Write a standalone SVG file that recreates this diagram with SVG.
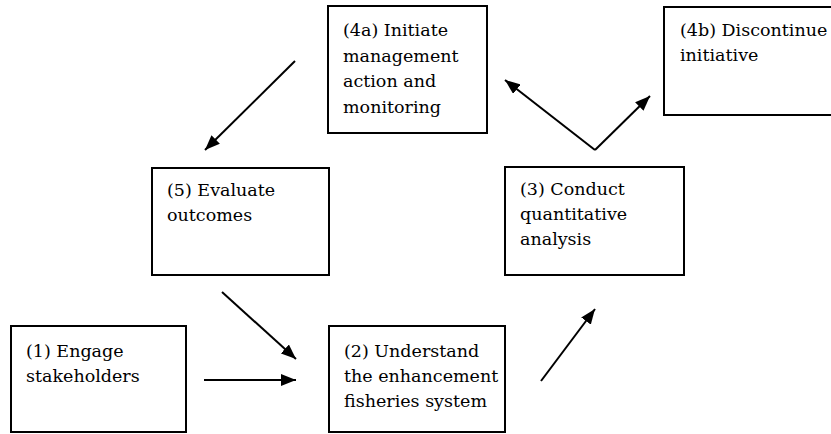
<svg xmlns="http://www.w3.org/2000/svg" width="831" height="434" viewBox="0 0 831 434">
<defs>
<marker id="ah" markerUnits="userSpaceOnUse" markerWidth="16" markerHeight="12" refX="15" refY="6" orient="auto">
<path d="M0,0 L15,6 L0,12 Z" fill="#000"/>
</marker>
</defs>
<rect width="831" height="434" fill="#fff"/>
<g font-size="17.5" fill="#000">
<g id="n4a" font-family="DejaVu Serif">
<rect x="328" y="6" width="159" height="127" fill="#fff" stroke="#000" stroke-width="2"/>
<text x="343" y="36">(4a) Initiate</text>
<text x="343" y="62">management</text>
<text x="343" y="87">action and</text>
<text x="343" y="113">monitoring</text>
</g>
<g id="n4b" font-family="DejaVu Serif">
<rect x="664" y="7" width="180" height="108" fill="#fff" stroke="#000" stroke-width="2"/>
<text x="680" y="36">(4b) Discontinue</text>
<text x="680" y="61">initiative</text>
</g>
<g id="n5" font-family="DejaVu Serif">
<rect x="152" y="168" width="177" height="107" fill="#fff" stroke="#000" stroke-width="2"/>
<text x="167" y="196">(5) Evaluate</text>
<text x="167" y="221">outcomes</text>
</g>
<g id="n3" font-family="DejaVu Serif">
<rect x="505" y="167" width="179" height="108" fill="#fff" stroke="#000" stroke-width="2"/>
<text x="520" y="195">(3) Conduct</text>
<text x="520" y="220">quantitative</text>
<text x="520" y="245">analysis</text>
</g>
<g id="n1" font-family="DejaVu Serif">
<rect x="11" y="326" width="175" height="106" fill="#fff" stroke="#000" stroke-width="2"/>
<text x="26" y="357">(1) Engage</text>
<text x="26" y="382">stakeholders</text>
</g>
<g id="n2" font-family="DejaVu Serif">
<rect x="329" y="326" width="176" height="106" fill="#fff" stroke="#000" stroke-width="2"/>
<text x="344" y="357">(2) Understand</text>
<text x="344" y="382">the enhancement</text>
<text x="344" y="407">fisheries system</text>
</g>
</g>
<g id="connectors" stroke="#000" stroke-width="2" fill="none">
<line x1="295" y1="61" x2="205" y2="150" marker-end="url(#ah)"/>
<line x1="222" y1="292" x2="296" y2="359" marker-end="url(#ah)"/>
<line x1="204" y1="380" x2="296" y2="380" marker-end="url(#ah)"/>
<line x1="541" y1="381" x2="595" y2="309" marker-end="url(#ah)"/>
<line x1="595" y1="150" x2="505" y2="80" marker-end="url(#ah)"/>
<line x1="595" y1="150" x2="650" y2="96" marker-end="url(#ah)"/>
</g>
</svg>
